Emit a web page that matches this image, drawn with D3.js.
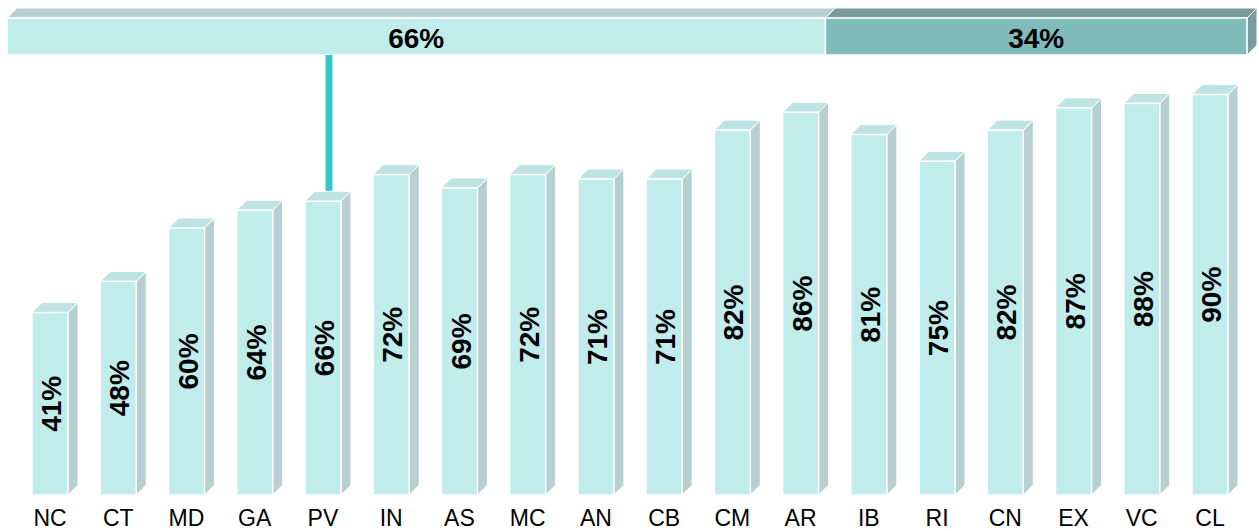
<!DOCTYPE html>
<html>
<head>
<meta charset="utf-8">
<script src="https://cdn.jsdelivr.net/npm/d3@7"></script>
<style>
  body { margin: 0; background: #fff; }
  svg { display: block; font-family: "Liberation Sans", Arial, sans-serif; }
</style>
</head>
<body>
<div id="chart"></div>
<script>
// datos
const categories = ['NC','CT','MD','GA','PV','IN','AS','MC','AN','CB','CM','AR','IB','RI','CN','EX','VC','CL'];
const values = [41,48,60,64,66,72,69,72,71,71,82,86,81,75,82,87,88,90];
const splitValues = [66, 34];
const highlight = 'PV';

const width = 1259, height = 531;
const dx = 10, dy = 10;   // profundidad 3D
const barW = 36;

const svg = d3.select('#chart').append('svg')
    .attr('width', width)
    .attr('height', height);

const x = d3.scalePoint().domain(categories).range([50, 1210]);
const y = d3.scaleLinear().domain([0, 100]).range([495, 50]);
const xs = d3.scaleLinear().domain([0, 100]).range([7, 1247]);

const pts = a => a.map(p => p.join(',')).join(' ');

// barra superior apilada
const topY0 = 18, topY1 = 55;
let acc = 0;
const segs = splitValues.map((v, i) => {
    const s = {v, a: acc, b: acc + v, i};
    acc += v;
    return s;
});
const segFront = ['#c0ecea', '#7fbcbb'];
const segTop = ['#b9cfd1', '#7a9c9a'];

const gTop = svg.append('g');
segs.forEach(s => {
    const a = xs(s.a), b = xs(s.b);
    gTop.append('polygon')
        .attr('points', pts([[a, topY0], [a + dx, topY0 - dy], [b + dx, topY0 - dy], [b, topY0]]))
        .attr('fill', segTop[s.i]).attr('stroke', '#fff').attr('stroke-width', 1);
    if (s.i === segs.length - 1) {
        gTop.append('polygon')
            .attr('points', pts([[b, topY0], [b + dx, topY0 - dy], [b + dx, topY1 - dy], [b, topY1]]))
            .attr('fill', segTop[s.i]).attr('stroke', '#fff').attr('stroke-width', 1);
    }
    gTop.append('rect')
        .attr('x', a).attr('y', topY0)
        .attr('width', b - a).attr('height', topY1 - topY0)
        .attr('fill', segFront[s.i]).attr('stroke', '#fff').attr('stroke-width', 1.5);
    gTop.append('text')
        .attr('x', (a + b) / 2).attr('y', (topY0 + topY1) / 2 + 1)
        .attr('text-anchor', 'middle').attr('dy', '0.36em')
        .attr('font-size', 28).attr('font-weight', 'bold')
        .text(s.v + '%');
});

// línea de conexión
const hi = categories.indexOf(highlight);
svg.append('line')
    .attr('x1', x(highlight) + dx / 2 + 1).attr('x2', x(highlight) + dx / 2 + 1)
    .attr('y1', topY1).attr('y2', y(values[hi]) - dy)
    .attr('stroke', '#33c7c7').attr('stroke-width', 7);

// barras
const bar = svg.append('g').selectAll('g')
    .data(categories.map((c, i) => ({c, v: values[i]})))
    .join('g');

bar.append('polygon')
    .attr('points', d => {
        const x1 = x(d.c) + barW / 2, yt = y(d.v), yb = y(0);
        return pts([[x1, yb], [x1 + dx, yb - dy], [x1 + dx, yt - dy], [x1, yt]]);
    })
    .attr('fill', '#b8cfd1').attr('stroke', '#fff').attr('stroke-width', 1);

bar.append('polygon')
    .attr('points', d => {
        const x0 = x(d.c) - barW / 2, x1 = x(d.c) + barW / 2, yt = y(d.v);
        return pts([[x0, yt], [x0 + dx, yt - dy], [x1 + dx, yt - dy], [x1, yt]]);
    })
    .attr('fill', '#bde3e3').attr('stroke', '#fff').attr('stroke-width', 1);

bar.append('rect')
    .attr('x', d => x(d.c) - barW / 2)
    .attr('y', d => y(d.v))
    .attr('width', barW)
    .attr('height', d => y(0) - y(d.v))
    .attr('fill', '#c0ecec').attr('stroke', '#fff').attr('stroke-width', 1.5);

bar.append('text')
    .attr('transform', d => `translate(${x(d.c) + 1},${(y(d.v) + y(0)) / 2}) rotate(-90)`)
    .attr('text-anchor', 'middle').attr('dy', '0.36em')
    .attr('font-size', 28).attr('font-weight', 'bold')
    .text(d => d.v + '%');

// etiquetas de categoría
svg.append('g').selectAll('text')
    .data(categories)
    .join('text')
    .attr('x', d => x(d)).attr('y', 518)
    .attr('text-anchor', 'middle').attr('dy', '0.36em')
    .attr('font-size', 23)
    .text(d => d);
</script>
</body>
</html>
